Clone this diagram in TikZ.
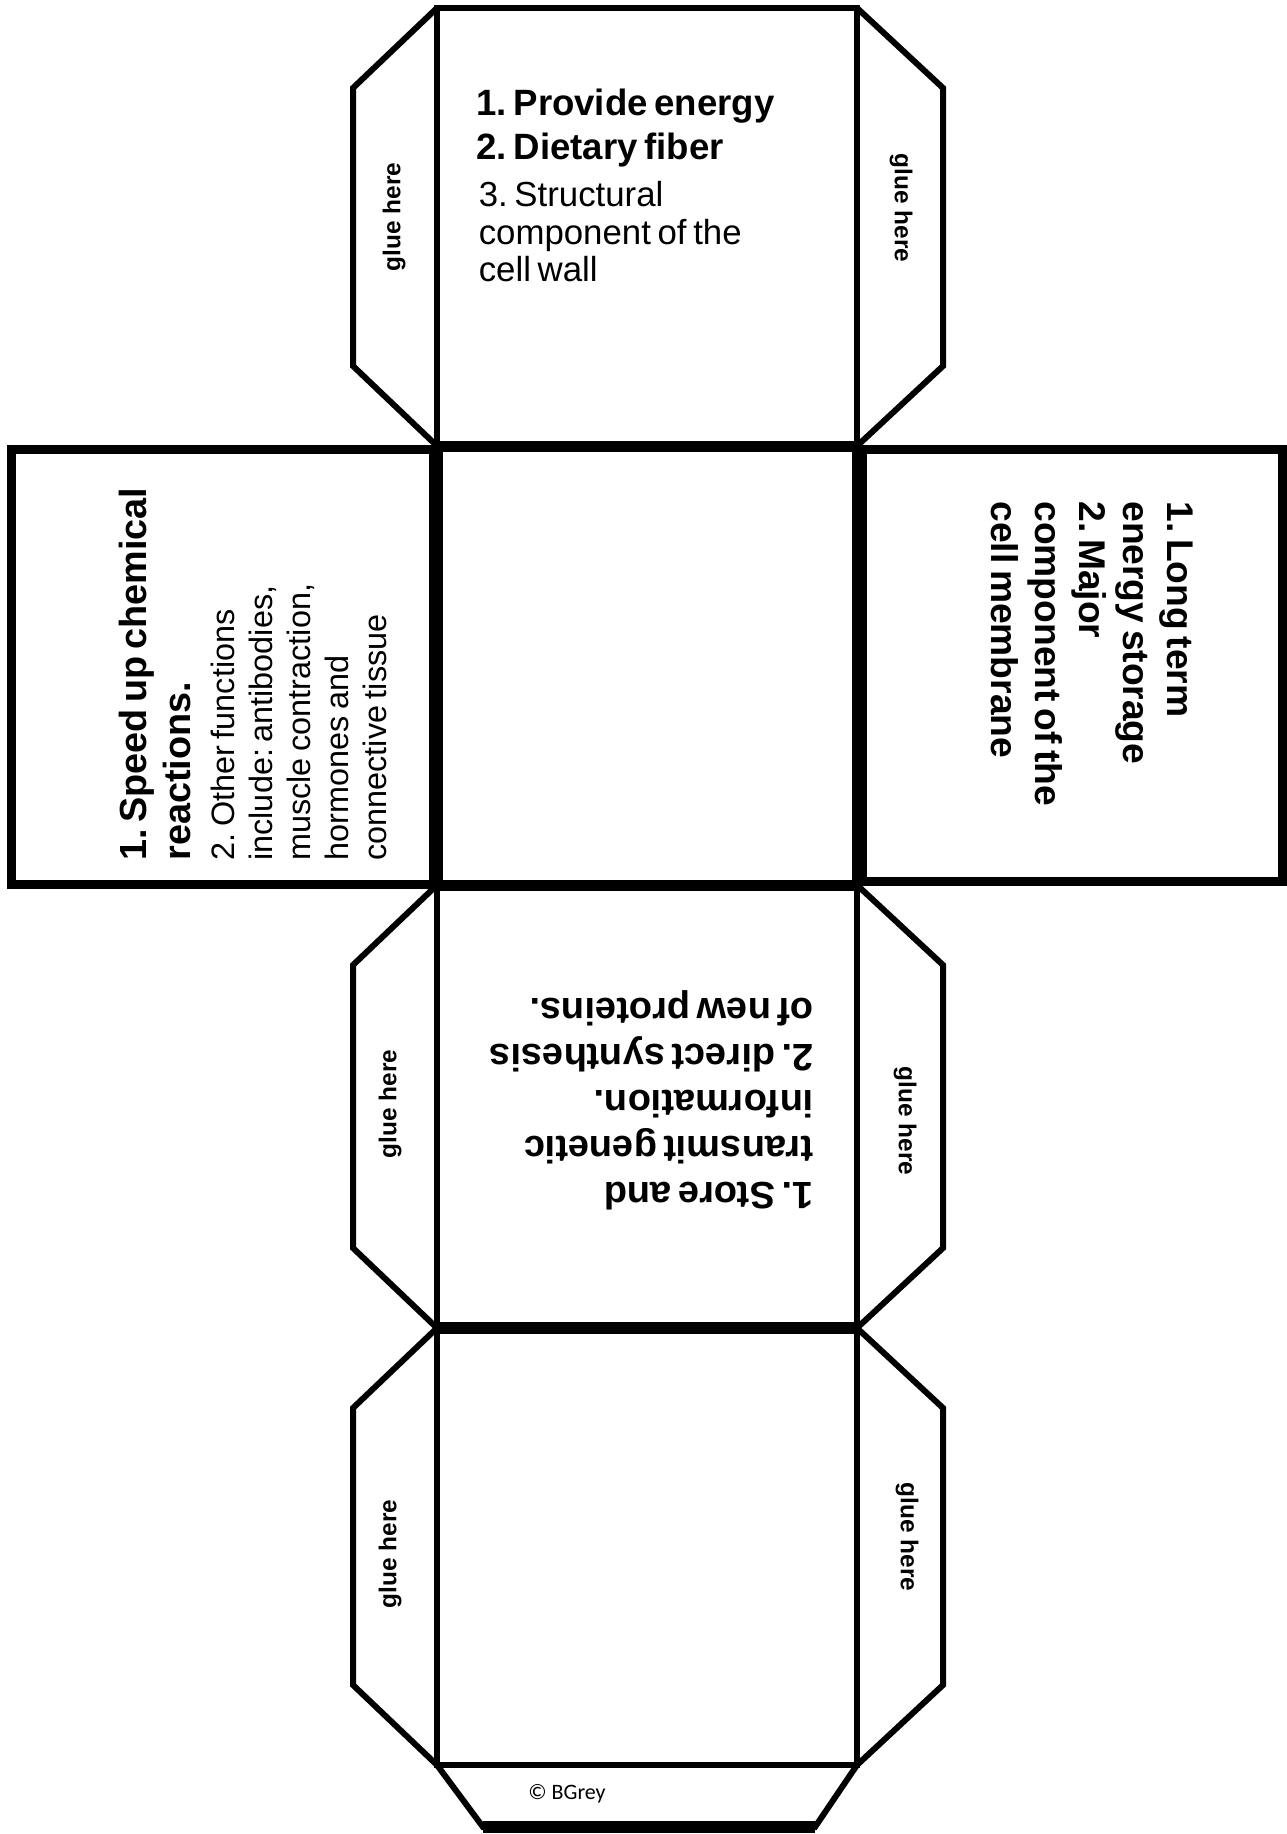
\documentclass[tikz,border=0pt]{standalone}
\usepackage{fontspec}
\setmainfont{Liberation Sans}
\newfontfamily\bgreyfont{Carlito}
\setlength{\parindent}{0pt}
\frenchspacing

\tikzstyle{face} = [draw, line width=3pt]
\tikzstyle{tab} = [draw, line width=3pt]
\tikzstyle{glue} = [inner sep=0pt, font=\fontsize{12.2}{14}\selectfont\bfseries]
\tikzstyle{answer} = [inner sep=0pt, anchor=north west, align=left, text width=220pt]

\begin{document}
\begin{tikzpicture}[x=0.5pt,y=-0.5pt]
	\useasboundingbox (0,0) rectangle (1286,1834);
	% glue tabs beside the column of faces
	\foreach \ya/\yb in {8/446,885/1328,1328/1765} {
		\draw[tab] (437,\ya) -- (353,\ya+80) -- (353,\yb-80) -- (437,\yb);
		\draw[tab] (857,\ya) -- (943,\ya+80) -- (943,\yb-80) -- (857,\yb);
	}
	\draw[tab] (437,1765) -- (483,1827) -- (815,1827) -- (857,1765); % bottom tab
	\draw[line width=6pt] (483,1827) -- (815,1827);
	\draw[face] (437,8) rectangle (857,446);
	\draw[face] (437,885) rectangle (857,1328);
	\draw[face] (437,1328) rectangle (857,1765);
	\draw[face,line width=4.5pt] (11,450) rectangle (433,884);
	\draw[face,line width=4.5pt] (862,450) rectangle (1282,881);
	\draw[face,line width=5.5pt] (437,447) rectangle (857,885); % middle face
	\draw[line width=6pt] (437,1328) -- (857,1328);
	% answers on the faces
	\node[answer] (carbs) at (476,89) {\fontsize{18.3}{22}\selectfont\bfseries
		1. Provide energy\par 2. Dietary fiber\par
		\leftskip=1.2pt\fontsize{17.4}{23.5}\selectfont\mdseries 3. Structural\par
		\fontsize{17.4}{18.7}\selectfont component of the\par cell wall\par};
	\node[answer,rotate=90] (protein) at (119,861) {\fontsize{18.9}{22}\selectfont\bfseries
		1. Speed up chemical\par reactions.\par
		\fontsize{16.2}{22}\selectfont\mdseries 2. Other functions\par
		\fontsize{16.2}{19}\selectfont include: antibodies,\par muscle contraction,\par hormones and\par connective tissue\par};
	\node[answer,rotate=-90] (lipid) at (1193,501) {\fontsize{18.6}{22}\selectfont\bfseries
		1. Long term\par energy storage\par 2. Major\par component of the\par cell membrane\par};
	\node[answer,rotate=180] (nucleic) at (814,1210) {\fontsize{19}{23}\selectfont\bfseries
		1. Store and\par transmit genetic\par information.\par 2. direct synthesis\par of new proteins.\par};
	\foreach \x/\y/\r [count=\i] in {394/217/90,901/208/-90,390/1104/90,905/1121/-90,390/1554/90,907/1537/-90}
		\node[glue,rotate=\r] (glue\i) at (\x,\y) {glue here};
	\node[inner sep=0pt, font=\bgreyfont\fontsize{11}{13}\selectfont] (credit) at (567,1794) {© BGrey};
\end{tikzpicture}
\end{document}
